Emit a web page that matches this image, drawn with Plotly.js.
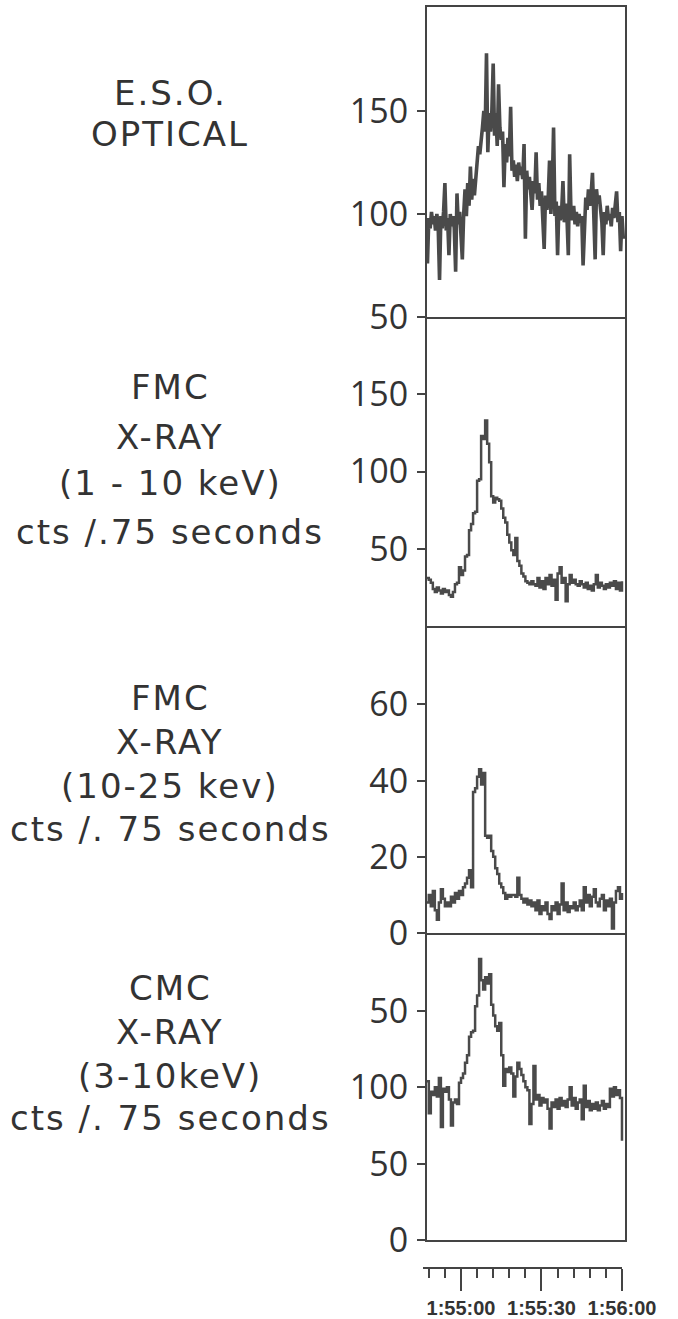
<!DOCTYPE html>
<html><head><meta charset="utf-8">
<script src="https://cdn.plot.ly/plotly-3.0.1.min.js"></script>
<style>html,body{margin:0;padding:0;background:#fff}
.annotation-text{letter-spacing:2px}</style>
</head><body><div id="chart" style="width:678px;height:1319px"></div>
<script>
// ---- DATA (time in seconds relative to 1:55:00 UT) ----
const opticalStart = -12.5, opticalStep = 0.5;
const opticalCounts = [
  76, 98, 93, 101, 95, 99, 92, 100, 94, 68,
  99, 93, 101, 115, 92, 98, 80, 100, 94, 99,
  93, 72, 110, 95, 101, 92, 78, 100, 112, 99,
  115, 104, 123, 107, 117, 109, 118, 128, 133, 129,
  138, 142, 150, 140, 178, 130, 149, 140, 150, 173,
  138, 149, 133, 163, 142, 136, 140, 113, 134, 125,
  137, 128, 152, 121, 126, 118, 124, 116, 125, 119,
  123, 117, 134, 88, 121, 112, 118, 108, 102, 116,
  110, 130, 107, 115, 104, 111, 100, 83, 109, 102,
  108, 126, 100, 112, 142, 99, 106, 80, 104, 97,
  101, 116, 96, 105, 98, 80, 129, 100, 97, 104,
  95, 101, 94, 100, 96, 99, 75, 93, 108, 102,
  112, 104, 110, 120, 103, 78, 112, 105, 109, 102,
  96, 80, 101, 95, 104, 97, 100, 94, 103, 98,
  104, 111, 96, 101, 82, 99, 88
];

const xrayBinStart = -12.75, xrayBinWidth = 0.75;
const fmcSoftCounts = [
  31, 30, 28, 24, 22, 25, 23, 21, 24, 22,
  23, 20, 19, 22, 27, 28, 38, 33, 36, 45,
  46, 62, 66, 73, 74, 94, 95, 123, 121, 133,
  118, 106, 84, 80, 83, 82, 81, 76, 70, 67,
  59, 54, 49, 46, 57, 42, 39, 34, 32, 29,
  28, 27, 29, 27, 26, 31, 25, 29, 24, 31,
  27, 33, 26, 30, 17, 34, 38, 28, 31, 16,
  27, 33, 28, 30, 27, 26, 29, 27, 25, 28,
  24, 26, 23, 27, 33, 25, 28, 26, 24, 27,
  25, 28, 26, 29, 24, 28, 23, 29
];
const fmcHardCounts = [
  8, 10, 7, 11, 6, 3.5, 8, 11.5, 9, 7,
  8, 7, 9.5, 8, 10.5, 9, 11, 10, 12, 13,
  14.5, 16.5, 12, 37, 38, 41, 43, 39, 42, 25.5,
  25, 25.5, 21.5, 20, 17, 15.5, 13, 12, 10.5, 9,
  10, 9.5, 10, 10, 9.5, 14.5, 10, 9, 8, 9,
  7.5, 8.5, 7, 8, 6, 8.5, 5, 7, 6, 8,
  5, 3.7, 7, 6, 8, 5, 7.5, 13, 6, 8,
  5.5, 7, 6.5, 8, 6, 7, 8.5, 6, 12, 8,
  10, 7, 9.5, 11.5, 8, 7, 9, 10, 6, 8.5,
  7, 9, 1.2, 8, 11, 12, 9, 10.5
];
const cmcCounts = [
  104, 83, 97, 95, 100, 94, 106, 74, 99, 97,
  100, 92, 75, 90, 92, 89, 103, 106, 109, 116,
  121, 133, 136, 137, 153, 160, 184, 170, 164, 172,
  168, 174, 154, 147, 140, 137, 142, 121, 101, 112,
  110, 113, 109, 94, 107, 116, 112, 108, 104, 100,
  98, 76, 89, 114, 92, 95, 88, 93, 90, 92,
  86, 73, 90, 87, 92, 86, 93, 88, 91, 87,
  92, 100, 88, 93, 86, 90, 92, 79, 101, 87,
  91, 85, 89, 86, 90, 85, 88, 91, 86, 89,
  87, 99, 94, 100, 95, 98, 93, 65
];

const timeTickVals = [0, 30, 60];
const timeTickText = ['1:55:00', '1:55:30', '1:56:00'];

const opticalTickVals = [50, 100, 150];
const fmcSoftTickVals = [50, 100, 150];
const fmcHardTickVals = [0, 20, 40, 60];
const cmcTickVals = [0, 50, 100, 150];
const cmcTickText = ['0', '50', '100', '50'];

const panelLabels = [
  ['E.S.O.', 'OPTICAL'],
  ['FMC', 'X-RAY', '(1 - 10 keV)', 'cts /.75 seconds'],
  ['FMC', 'X-RAY', '(10-25 kev)', 'cts /. 75 seconds'],
  ['CMC', 'X-RAY', '(3-10keV)', 'cts /. 75 seconds']
];

// ---- build ----
function grid(start, step, n) { const a = []; for (let i = 0; i < n; i++) a.push(start + step * i); return a; }
const tOpt = grid(opticalStart, opticalStep, opticalCounts.length);
const tX = grid(xrayBinStart, xrayBinWidth, fmcSoftCounts.length);

const ink = '#444444';
const lineCol = '#4a4a4a';
const traces = [
  {x: tOpt, y: opticalCounts, xaxis: 'x', yaxis: 'y', mode: 'lines', line: {color: lineCol, width: 3.6}},
  {x: tX, y: fmcSoftCounts, xaxis: 'x2', yaxis: 'y2', mode: 'lines', line: {color: lineCol, width: 2.5, shape: 'hv'}},
  {x: tX, y: fmcHardCounts, xaxis: 'x3', yaxis: 'y3', mode: 'lines', line: {color: lineCol, width: 2.5, shape: 'hv'}},
  {x: tX, y: cmcCounts, xaxis: 'x4', yaxis: 'y4', mode: 'lines', line: {color: lineCol, width: 2.5, shape: 'hv'}},
  {x: [], y: [], xaxis: 'x5', yaxis: 'y4', mode: 'lines', hoverinfo: 'skip'}
];

// geometry (pixels)
const L = 422, R = 625, T = 7, B = 1268;
const W = 678, H = 1319;
const px = v => (v - L) / (R - L);
const py = v => (B - v) / (B - T);

const panelX = [px(427), 1];
const xRange = [(427 - 461) / 2.683, (625 - 461) / 2.683];
const tickFont = {family: 'Open Sans', size: 34, color: '#333'};

function xax(anchor, mirror) {
  return {domain: panelX, range: xRange, anchor: anchor,
    showline: true, mirror: mirror, linecolor: ink, linewidth: 2,
    showgrid: false, zeroline: false, showticklabels: false, ticks: '', fixedrange: true};
}
function yax(dom, range, vals, text) {
  const a = {domain: dom, range: range, showline: true, mirror: true, linecolor: ink, linewidth: 2,
    showgrid: false, zeroline: false, ticks: 'outside', ticklen: 8, tickwidth: 2, tickcolor: ink,
    tickmode: 'array', tickvals: vals, tickfont: tickFont, ticklabelstandoff: 2, fixedrange: true};
  if (text) a.ticktext = text;
  return a;
}

const yDom = [[py(317), 1], [py(626), py(317)], [py(933), py(626)], [py(1240), py(933)]];

const labelY = [
  [93, 134],
  [387, 437, 483, 532],
  [698, 742, 786, 829],
  [988, 1032, 1076, 1118]
];
const annotations = [];
panelLabels.forEach((lines, p) => {
  lines.forEach((s, k) => {
    annotations.push({text: s, xref: 'paper', yref: 'paper', x: px(170), y: py(labelY[p][k]),
      xanchor: 'center', yanchor: 'middle', showarrow: false,
      font: {family: 'DejaVu Sans', size: 34, color: '#333'}});
  });
});

const layout = {
  width: W, height: H,
  margin: {l: L, r: W - R, t: T, b: H - B, pad: 0},
  paper_bgcolor: '#ffffff', plot_bgcolor: 'rgba(0,0,0,0)',
  showlegend: false,
  xaxis: xax('y', true), xaxis2: xax('y2', false), xaxis3: xax('y3', false), xaxis4: xax('y4', false),
  xaxis5: {domain: [px(423), px(622)], range: [(423 - 461) / 2.683, (622 - 461) / 2.683],
    anchor: 'free', position: 0, side: 'bottom',
    showline: true, linecolor: ink, linewidth: 2, showgrid: false, zeroline: false,
    ticks: 'outside', ticklen: 22, tickwidth: 2, tickcolor: ink,
    tickmode: 'array', tickvals: timeTickVals, ticktext: timeTickText,
    tickfont: {family: 'Liberation Sans', size: 20, color: '#333', weight: 700},
    ticklabelstandoff: 0,
    minor: {tickmode: 'linear', tick0: 0, dtick: 6, ticks: 'outside', ticklen: 9, tickwidth: 2, tickcolor: ink, showgrid: false},
    fixedrange: true},
  yaxis: yax(yDom[0], [50, 200.5], opticalTickVals),
  yaxis2: yax(yDom[1], [0, 200], fmcSoftTickVals),
  yaxis3: yax(yDom[2], [0, 80.6], fmcHardTickVals),
  yaxis4: yax(yDom[3], [0, 201], cmcTickVals, cmcTickText),
  annotations: annotations
};

Plotly.newPlot('chart', traces, layout, {staticPlot: true, displayModeBar: false});
</script></body></html>
